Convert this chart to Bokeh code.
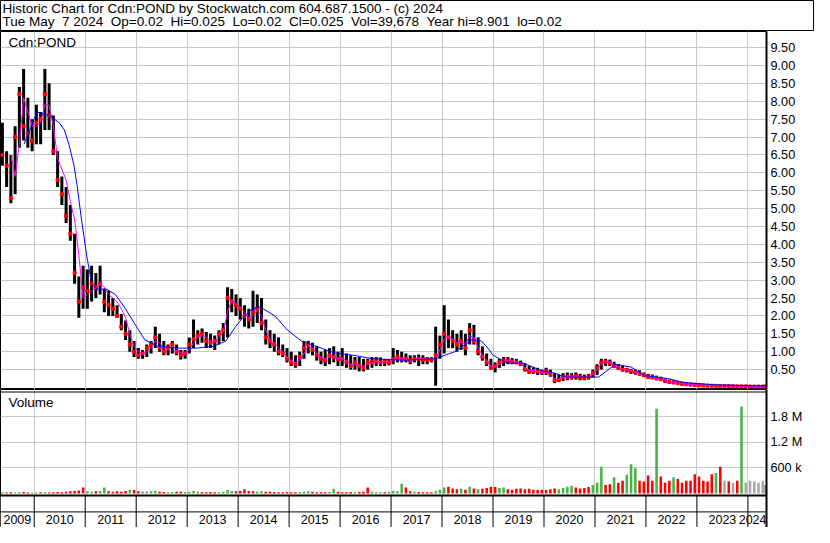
from bokeh.plotting import figure
from bokeh.models import (Range1d, FixedTicker, NumeralTickFormatter, Label, Span,
                          ColumnDataSource)
from bokeh.layouts import column
from bokeh.embed import file_html
from bokeh.resources import INLINE
from bokeh.core.properties import value

# ---------------- data ----------------
symbol = "Cdn:POND"
title_line = "Historic Chart for Cdn:POND by Stockwatch.com 604.687.1500 - (c) 2024"
quote_line = ("Tue May \u00a07 2024 \u00a0Op=0.02 \u00a0Hi=0.025 \u00a0Lo=0.02 \u00a0Cl=0.025 "
              "\u00a0Vol=39,678 \u00a0Year hi=8.901 \u00a0lo=0.02")
first_year, first_month = 2009, 5          # first monthly bar
last_bar_time = 2024.34                     # last (partial) month ends May 7 2024
axis_start, axis_end = 2009.338, 2024.365   # visible time span
year_labels = ["2009", "2010", "2011", "2012", "2013", "2014", "2015", "2016",
               "2017", "2018", "2019", "2020", "2021", "2022", "2023", "2024"]

# monthly high / low / close (CAD)
high = [
    7.4, 6.6, 6.5, 7.3, 8.4, 8.9, 8.1, 7.5,                                   # 2009 May-Dec
    7.9, 7.7, 8.9, 8.5, 7.6, 6.6, 5.9, 5.6, 5.1, 4.3, 3.1, 3.4,               # 2010
    3.3, 3.4, 3.2, 3.4, 2.75, 2.7, 2.5, 2.3, 2.05, 1.87, 1.6, 1.3,            # 2011
    1.1, 1.05, 1.2, 1.3, 1.7, 1.5, 1.3, 1.2, 1.3, 1.2, 1.05, 1.05,            # 2012
    1.4, 1.9, 1.6, 1.65, 1.55, 1.5, 1.45, 1.6, 1.8, 2.8, 2.75, 2.6,           # 2013
    2.5, 2.3, 2.2, 2.7, 2.6, 2.5, 1.9, 1.6, 1.5, 1.4, 1.2, 1.1,               # 2014
    1.0, 0.9, 1.0, 1.3, 1.3, 1.25, 1.15, 1.0, 1.05, 1.1, 1.15, 1.0,           # 2015
    1.1, 0.95, 0.9, 0.85, 0.85, 0.8, 0.8, 0.85, 0.85, 0.84, 0.8, 0.8,         # 2016
    1.1, 1.05, 1.0, 0.95, 0.9, 0.9, 0.92, 0.9, 0.85, 0.85, 1.7, 1.45,         # 2017
    2.3, 1.9, 1.6, 1.5, 1.6, 1.5, 1.8, 1.75, 1.4, 1.15, 0.95, 0.8,            # 2018
    0.7, 0.8, 0.85, 0.85, 0.82, 0.8, 0.75, 0.68, 0.6, 0.57, 0.55, 0.5,        # 2019
    0.55, 0.5, 0.4, 0.35, 0.4, 0.42, 0.4, 0.42, 0.38, 0.36, 0.38, 0.5,        # 2020
    0.65, 0.8, 0.8, 0.78, 0.72, 0.65, 0.6, 0.55, 0.52, 0.5, 0.48, 0.42,       # 2021
    0.38, 0.36, 0.33, 0.3, 0.25, 0.22, 0.2, 0.18, 0.16, 0.14, 0.12, 0.1,      # 2022
    0.09, 0.08, 0.075, 0.07, 0.065, 0.06, 0.06, 0.055, 0.05, 0.05, 0.045, 0.04,  # 2023
    0.04, 0.035, 0.035, 0.03, 0.025,                                          # 2024 Jan-May
]
low = [
    6.2, 5.6, 5.15, 5.4, 6.7, 6.9, 6.7, 6.6,
    6.8, 6.8, 7.2, 7.2, 6.5, 5.6, 5.1, 4.6, 4.1, 2.9, 1.95, 2.2,
    2.2, 2.4, 2.5, 2.6, 2.1, 2.0, 2.0, 1.95, 1.6, 1.33, 1.0, 0.85,
    0.8, 0.8, 0.85, 0.95, 1.1, 1.0, 0.9, 0.9, 0.95, 0.9, 0.78, 0.8,
    0.95, 1.1, 1.2, 1.25, 1.1, 1.1, 1.05, 1.2, 1.3, 1.4, 2.1, 2.0,
    1.9, 1.7, 1.65, 1.7, 1.8, 1.6, 1.2, 1.1, 1.0, 0.9, 0.85, 0.7,
    0.6, 0.55, 0.6, 0.8, 0.95, 0.9, 0.75, 0.65, 0.6, 0.65, 0.7, 0.6,
    0.6, 0.55, 0.5, 0.5, 0.45, 0.45, 0.5, 0.55, 0.6, 0.6, 0.6, 0.62,
    0.65, 0.7, 0.7, 0.7, 0.65, 0.7, 0.6, 0.65, 0.65, 0.7, 0.05, 0.8,
    0.95, 1.1, 1.1, 1.0, 1.05, 0.9, 1.2, 1.2, 0.9, 0.75, 0.6, 0.5,
    0.42, 0.55, 0.6, 0.65, 0.65, 0.65, 0.6, 0.45, 0.38, 0.38, 0.35, 0.35,
    0.35, 0.3, 0.12, 0.15, 0.18, 0.2, 0.22, 0.22, 0.2, 0.2, 0.22, 0.28,
    0.35, 0.5, 0.6, 0.6, 0.55, 0.5, 0.45, 0.42, 0.38, 0.36, 0.33, 0.3,
    0.25, 0.24, 0.22, 0.2, 0.16, 0.12, 0.12, 0.1, 0.08, 0.07, 0.06, 0.05,
    0.05, 0.04, 0.04, 0.035, 0.035, 0.03, 0.03, 0.03, 0.025, 0.025, 0.02, 0.02,
    0.02, 0.02, 0.02, 0.02, 0.02,
]
close = [
    6.5, 6.2, 5.3, 7.0, 8.2, 7.3, 7.1, 6.9,
    7.4, 7.5, 8.2, 7.6, 6.6, 5.8, 5.4, 4.8, 4.3, 3.2, 2.4, 2.8,
    2.7, 2.9, 2.8, 2.9, 2.4, 2.3, 2.2, 2.0, 1.7, 1.5, 1.2, 1.0,
    0.9, 0.95, 1.1, 1.2, 1.4, 1.1, 1.0, 1.1, 1.2, 1.0, 0.9, 0.95,
    1.2, 1.35, 1.45, 1.5, 1.3, 1.25, 1.3, 1.5, 1.6, 2.5, 2.4, 2.3,
    2.2, 2.0, 1.9, 2.1, 2.2, 1.8, 1.4, 1.3, 1.2, 1.0, 0.95, 0.8,
    0.7, 0.65, 0.85, 1.1, 1.2, 1.05, 0.9, 0.8, 0.75, 0.9, 0.85, 0.8,
    0.8, 0.7, 0.6, 0.7, 0.6, 0.55, 0.7, 0.7, 0.75, 0.7, 0.72, 0.7,
    0.8, 0.85, 0.8, 0.8, 0.75, 0.8, 0.8, 0.78, 0.78, 0.78, 0.9, 1.2,
    1.5, 1.4, 1.3, 1.2, 1.3, 1.1, 1.6, 1.3, 1.0, 0.85, 0.7, 0.55,
    0.6, 0.7, 0.75, 0.75, 0.72, 0.7, 0.65, 0.5, 0.45, 0.45, 0.45, 0.42,
    0.45, 0.38, 0.2, 0.22, 0.3, 0.3, 0.3, 0.32, 0.28, 0.27, 0.3, 0.4,
    0.55, 0.7, 0.72, 0.68, 0.6, 0.55, 0.5, 0.48, 0.45, 0.42, 0.38, 0.34,
    0.3, 0.28, 0.25, 0.23, 0.18, 0.15, 0.14, 0.12, 0.1, 0.09, 0.08, 0.07,
    0.06, 0.055, 0.05, 0.05, 0.045, 0.04, 0.04, 0.035, 0.035, 0.03, 0.03, 0.03,
    0.025, 0.025, 0.025, 0.025, 0.025,
]
# short moving average (magenta), monthly readings; None = not yet defined
ma_short = [
    None, None, 6.5, 5.9, 6.8, 8.1, 7.7, 7.3,
    7.3, 7.4, 7.9, 7.9, 7.3, 6.4, 6.1, 5.8, 5.2, 4.7, 3.7, 2.5,
    2.6, 2.7, 2.8, 2.9, 2.8, 2.6, 2.5, 2.4, 2.2, 1.95, 1.5, 1.15,
    1.0, 0.95, 1.0, 1.1, 1.3, 1.25, 1.1, 1.05, 1.15, 1.1, 0.97, 0.95,
    1.05, 1.25, 1.4, 1.45, 1.4, 1.3, 1.28, 1.4, 1.55, 2.1, 2.45, 2.35,
    2.25, 2.1, 1.95, 2.0, 2.15, 2.0, 1.6, 1.35, 1.25, 1.1, 1.0, 0.85,
    0.75, 0.7, 0.75, 0.95, 1.15, 1.1, 0.95, 0.85, 0.8, 0.85, 0.85, 0.8,
    0.8, 0.75, 0.65, 0.65, 0.62, 0.6, 0.65, 0.68, 0.72, 0.72, 0.72, 0.72,
    0.78, 0.82, 0.8, 0.8, 0.78, 0.78, 0.8, 0.8, 0.78, 0.78, 0.8, 1.05,
    1.35, 1.4, 1.35, 1.25, 1.25, 1.2, 1.45, 1.4, 1.1, 0.9, 0.75, 0.6,
    0.58, 0.65, 0.72, 0.75, 0.74, 0.72, 0.68, 0.55, 0.48, 0.46, 0.45, 0.43,
    0.44, 0.4, 0.25, 0.22, 0.27, 0.3, 0.3, 0.31, 0.29, 0.28, 0.29, 0.36,
    0.5, 0.65, 0.72, 0.7, 0.63, 0.57, 0.52, 0.49, 0.46, 0.43, 0.4, 0.35,
    0.31, 0.29, 0.26, 0.24, 0.2, 0.16, 0.15, 0.13, 0.11, 0.095, 0.085, 0.075,
    0.065, 0.058, 0.053, 0.05, 0.047, 0.042, 0.04, 0.037, 0.035, 0.032, 0.03, 0.03,
    0.027, 0.025, 0.025, 0.025, 0.025,
]
# long moving average (blue): readings at (decimal year, price)
ma_long_time = [2009.80, 2009.915, 2010.05, 2010.30, 2010.49, 2010.59, 2010.68, 2010.78,
                2010.84, 2010.93, 2011.03, 2011.13, 2011.26, 2011.40, 2011.59, 2011.78,
                2011.97, 2012.17, 2012.42, 2012.80, 2013.18, 2013.51, 2013.76, 2013.95,
                2014.09, 2014.28, 2014.43, 2014.72, 2014.97, 2015.24, 2015.55, 2015.88,
                2016.26, 2016.65, 2017.28, 2017.86, 2018.25, 2018.58, 2018.77, 2018.90,
                2019.00, 2019.28, 2019.59, 2019.97, 2020.16, 2020.43, 2021.07, 2021.40,
                2021.71, 2021.97, 2022.42, 2022.74, 2023.38, 2024.36]
ma_long_price = [6.8, 7.2, 7.7, 7.6, 7.4, 7.2, 6.8, 6.2,
                 5.65, 4.66, 3.68, 2.87, 2.73, 2.76, 2.6, 2.22,
                 1.78, 1.33, 1.15, 1.1, 1.1, 1.15, 1.3, 1.7,
                 1.95, 2.2, 2.25, 2.0, 1.6, 1.3, 1.14, 0.97,
                 0.9, 0.8, 0.76, 0.8, 1.0, 1.33, 1.3, 1.1,
                 0.9, 0.68, 0.68, 0.46, 0.42, 0.29, 0.29, 0.65,
                 0.57, 0.33, 0.25, 0.14, 0.07, 0.04]
# peak daily volume within each month (thousands of shares)
volume_k = [
    30, 25, 30, 25, 30, 35, 25, 20,
    25, 30, 30, 25, 30, 35, 30, 40, 50, 60, 70, 140,
    50, 40, 50, 60, 140, 50, 40, 50, 40, 60, 90, 80,
    50, 40, 40, 50, 60, 40, 35, 30, 35, 40, 40, 35,
    40, 60, 40, 35, 30, 35, 30, 30, 40, 80, 60, 50,
    60, 100, 60, 50, 40, 50, 40, 40, 35, 30, 30, 35,
    30, 30, 35, 40, 50, 40, 30, 30, 30, 35, 110, 40,
    30, 30, 35, 30, 35, 40, 140, 40, 30, 30, 30, 40,
    60, 50, 230, 140, 50, 40, 35, 30, 30, 30, 60, 80,
    140, 160, 120, 100, 110, 90, 160, 120, 100, 110, 130, 160,
    150, 130, 140, 100, 90, 110, 120, 100, 110, 90, 80, 90,
    80, 100, 120, 100, 130, 160, 180, 140, 120, 130, 150, 200,
    250, 630, 200, 220, 380, 250, 300, 440, 685, 590, 300, 280,
    420, 300, 1990, 400, 250, 300, 380, 340, 250, 300, 300, 450,
    400, 300, 280, 450, 480, 630, 300, 280, 250, 300, 2040, 250,
    300, 280, 250, 300, 200,
]
# u = up day (green), d = down day (red), n = unchanged (grey); one letter per month
volume_dir = "".join([
    "udduuddu",        # 2009 May-Dec
    "ududdddddddd",    # 2010
    "uuduudddddud",    # 2011
    "duuuudduuddu",    # 2012
    "uuudddduuuud",    # 2013
    "dddduudddddd",    # 2014
    "dduuudddduud",    # 2015
    "ddduddduuudu",    # 2016
    "uuuddudddduu",    # 2017
    "udddudududdd",    # 2018
    "duuddddddddd",    # 2019
    "ddduuuuddddu",    # 2020
    "uuddudduuudd",    # 2021
    "dduddduddddd",    # 2022
    "ddddudndndun",    # 2023
    "nnnnn",           # 2024 Jan-May
])
vol_ticks = [600000, 1200000, 1800000]
vol_tick_labels = ["600 k", "1.2 M", "1.8 M"]
price_ticks = [0.5, 1.0, 1.5, 2.0, 2.5, 3.0, 3.5, 4.0, 4.5, 5.0,
               5.5, 6.0, 6.5, 7.0, 7.5, 8.0, 8.5, 9.0, 9.5]

# ---------------- layout constants ----------------
FONT = "Liberation Sans"
FS = "12.7px"
FS_HDR = "13.5px"
FS_YEAR = "12.5px"
FRAME_W = 766
AXIS_W = 48
HDR_H = 31
PRICE_H = 358
VOL_H = 138
GRID = "#c8c8c8"
GREEN, RED, GREY = "#46b446", "#ff0000", "#a8a8a8"

# month positions (decimal years, mid month)
times = []
for i in range(len(close)):
    m = first_month - 1 + i
    times.append(first_year + m // 12 + ((m % 12) + 0.5) / 12.0)
times[-1] = last_bar_time
year_bounds = list(range(first_year + 1, first_year + len(year_labels)))
label_x = []
label_align = []
edges = [axis_start] + year_bounds + [axis_end]
for a, b in zip(edges[:-1], edges[1:]):
    label_x.append((a + b) / 2.0)
    label_align.append("center")
# the last (partial) year cell is too narrow: end its label at the right border
label_x[-1] = axis_end
label_align[-1] = "right"

# ---------------- header ----------------
hdr = figure(frame_width=FRAME_W + AXIS_W, frame_height=HDR_H,
             x_range=Range1d(0, FRAME_W + AXIS_W), y_range=Range1d(HDR_H, 0),
             toolbar_location=None, output_backend="svg", min_border=0,
             x_axis_location=None, y_axis_location=None)
hdr.grid.visible = False
hdr.outline_line_color = "black"
hdr.text(x=[2, 2], y=[7.5, 21], text=[title_line, quote_line], text_font=value(FONT),
         text_font_size=FS_HDR, text_baseline="middle", text_color="black")

# ---------------- price panel ----------------
xr = Range1d(axis_start, axis_end)
pp = figure(frame_width=FRAME_W, frame_height=PRICE_H, x_range=xr, y_range=Range1d(-0.057, 9.95),
            toolbar_location=None, output_backend="svg", x_axis_location=None,
            y_axis_location="right", min_border_left=0, min_border_top=0,
            min_border_bottom=0, min_border_right=AXIS_W)
pp.outline_line_color = "black"
pp.xgrid.ticker = FixedTicker(ticks=year_bounds)
pp.ygrid.ticker = FixedTicker(ticks=price_ticks)
pp.grid.grid_line_color = GRID
pp.grid.grid_line_alpha = 1.0
ya = pp.yaxis[0]
ya.ticker = FixedTicker(ticks=price_ticks)
ya.formatter = NumeralTickFormatter(format="0.00")
ya.major_label_text_font = FONT
ya.major_label_text_font_size = FS
ya.major_label_text_color = "black"
ya.major_tick_out = 0
ya.major_tick_in = 0
ya.minor_tick_line_color = None
ya.axis_line_width = 2
ya.axis_line_color = "black"
ya.major_label_standoff = 4

psrc = ColumnDataSource(dict(t=times, hi=high, lo=low, cl=close,
                             ma=[float("nan") if v is None else v for v in ma_short]))
pp.segment(x0="t", y0="lo", x1="t", y1="hi", source=psrc, line_color="black", line_width=3)
pp.scatter(x="t", y="cl", source=psrc, marker="square", size=3, fill_color=RED,
           line_color=RED)
pp.line(x="t", y="ma", source=psrc, line_color="#ff00ff", line_width=1)
pp.line(x=ma_long_time, y=ma_long_price, line_color="#0000ff", line_width=1)
pp.add_layout(Label(x=8, y=PRICE_H - 3, x_units="screen", y_units="screen", text=symbol,
                    text_font=FONT, text_font_size=FS_HDR, text_baseline="top",
                    text_color="black"))

# ---------------- volume panel ----------------
v_top, v_bot = 2441000, -798000
vpp = (v_top - v_bot) / VOL_H          # shares per pixel


def vol_at(px_from_top):
    return v_top - px_from_top * vpp


vp = figure(frame_width=FRAME_W, frame_height=VOL_H, x_range=xr, y_range=Range1d(v_bot, v_top),
            toolbar_location=None, output_backend="svg", x_axis_location=None,
            y_axis_location="right", min_border_left=0, min_border_top=0,
            min_border_bottom=0, min_border_right=AXIS_W)
vp.outline_line_color = "black"
vp.xgrid.ticker = FixedTicker(ticks=year_bounds)
vp.ygrid.ticker = FixedTicker(ticks=vol_ticks)
vp.grid.grid_line_color = GRID
vp.grid.grid_line_alpha = 1.0
va = vp.yaxis[0]
va.ticker = FixedTicker(ticks=vol_ticks)
va.major_label_overrides = {t: s for t, s in zip(vol_ticks, vol_tick_labels)}
va.major_label_text_font = FONT
va.major_label_text_font_size = FS
va.major_label_text_color = "black"
va.major_tick_out = 0
va.major_tick_in = 0
va.minor_tick_line_color = None
va.axis_line_width = 2
va.axis_line_color = "black"
va.major_label_standoff = 4

cmap = {"u": GREEN, "d": RED, "n": GREY}
vsrc = ColumnDataSource(dict(t=times, v=[k * 1000 for k in volume_k],
                             c=[cmap[d] for d in volume_dir]))
vp.vbar(x="t", top="v", bottom=0, width=0.05, source=vsrc, fill_color="c", line_color=None)

# axis rows under the volume bars
row1 = vol_at(106)
row2 = vol_at(122.4)
vp.quad(left=[axis_start], right=[axis_end], top=[row1], bottom=[v_bot], fill_color="white",
        line_color=None)
vp.segment(x0=year_bounds, y0=[v_bot] * len(year_bounds), x1=year_bounds,
           y1=[row1] * len(year_bounds), line_color="black", line_width=1)
vp.add_layout(Span(location=row1, dimension="width", line_color="black", line_width=2))
vp.add_layout(Span(location=row2, dimension="width", line_color="black", line_width=1))
vp.add_layout(Span(location=vol_at(2.5), dimension="width", line_color="black", line_width=1))
ysrc = ColumnDataSource(dict(x=label_x, y=[vol_at(130.3)] * len(label_x), text=year_labels,
                             align=label_align))
vp.text(x="x", y="y", text="text", text_align="align", source=ysrc, text_font=value(FONT),
        text_font_size=FS_YEAR, text_baseline="middle", text_color="black")
vp.add_layout(Label(x=8, y=VOL_H - 5, x_units="screen", y_units="screen", text="Volume",
                    text_font=FONT, text_font_size=FS_HDR, text_baseline="top",
                    text_color="black"))

layout = column(hdr, pp, vp, spacing=0)
open("out.html", "w").write(file_html(layout, INLINE))
